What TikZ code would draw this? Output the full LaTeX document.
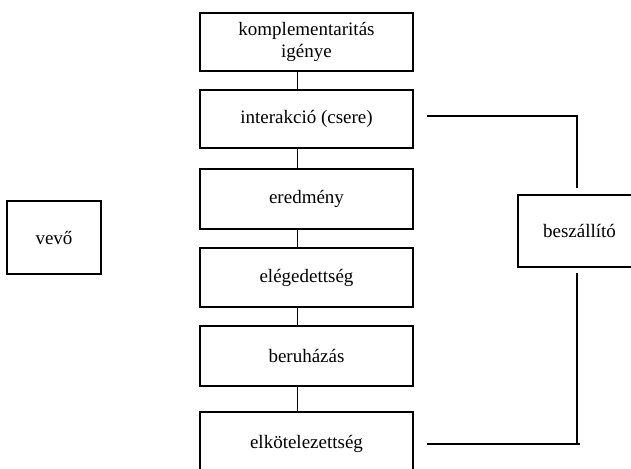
\documentclass[tikz,border=0pt]{standalone}
\usepackage{fontspec}
\setmainfont{Liberation Serif}
\usetikzlibrary{calc}
\tikzset{
  stage/.style={draw, line width=2.3pt, minimum width=213pt, inner sep=0pt, align=center,
    font=\fontsize{19}{22}\selectfont},
  side/.style={draw, line width=2.3pt, inner sep=0pt, align=center,
    font=\fontsize{19}{22}\selectfont},
  thinlink/.style={line width=0.8pt},
  thicklink/.style={line width=2pt}
}
\begin{document}
\begin{tikzpicture}[x=1pt,y=-1pt]
\clip (0,0) rectangle (631,468);
\fill[white] (0,0) rectangle (631,468);
\node[stage, minimum height=58pt] (b1) at (306.5,42) {komplementaritás\\igénye};
\node[stage, minimum height=58pt] (b2) at (306.5,119) {interakció (csere)};
\node[stage, minimum height=60pt] (b3) at (306.5,199) {eredmény};
\node[stage, minimum height=59pt] (b4) at (306.5,277.5) {elégedettség};
\node[stage, minimum height=60pt] (b5) at (306.5,356) {beruházás};
\node[stage, minimum height=64pt] (b6) at (306.5,444) {elkötelezettség};
\node[side, minimum width=94pt, minimum height=73pt] (vevo) at (54,237.5) {vevő};
\node[side, anchor=west, minimum height=72pt, text width=90pt, inner xsep=25pt, align=left] (besz) at (517,231) {beszállító};
\foreach \a/\b in {b1/b2,b2/b3,b3/b4,b4/b5,b5/b6}
  \draw[thinlink] ($(\a.south)+(-9.5,0)$) -- ($(\b.north)+(-9.5,0)$);
\coordinate (t1) at (427,116);
\coordinate (t2) at (577,188);
\coordinate (u1) at (577,273);
\coordinate (u2) at (427,444);
\coordinate (u3) at (580,444);
\draw[thicklink] (t1) -| (t2);
\draw[thicklink] (u1) -- (577,444);
\draw[thicklink] (u2) -- (u3);
\end{tikzpicture}
\end{document}
